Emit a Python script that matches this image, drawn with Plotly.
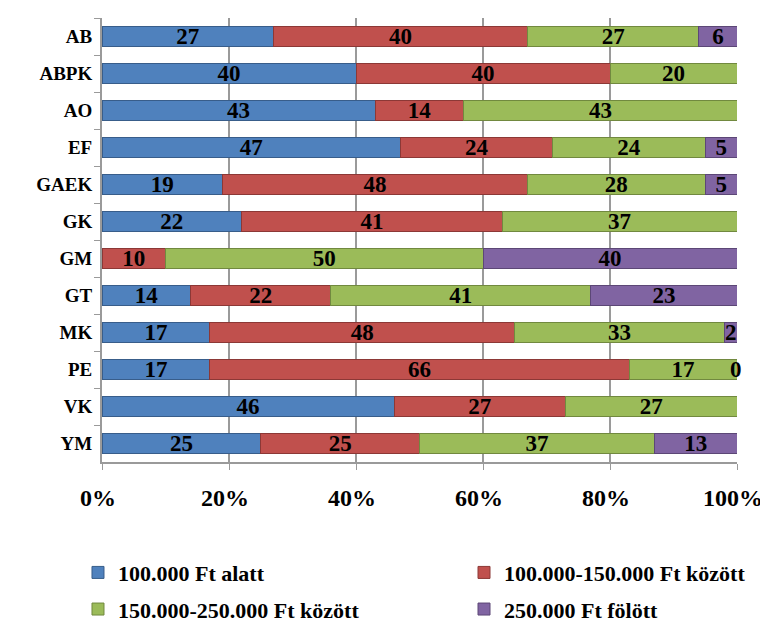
import plotly.graph_objects as go

categories = ["AB", "ABPK", "AO", "EF", "GAEK", "GK", "GM", "GT", "MK", "PE", "VK", "YM"]
series_names = ["100.000 Ft alatt", "100.000-150.000 Ft között",
                "150.000-250.000 Ft között", "250.000 Ft fölött"]
s_under100 = [27, 40, 43, 47, 19, 22, 0, 14, 17, 17, 46, 25]
s_100_150 = [40, 40, 14, 24, 48, 41, 10, 22, 48, 66, 27, 25]
s_150_250 = [27, 20, 43, 24, 28, 37, 50, 41, 33, 17, 27, 37]
s_over250 = [6, 0, 0, 5, 5, 0, 40, 23, 2, 0, 0, 13]
colors = ["#4F81BD", "#C0504D", "#9BBB59", "#8064A2"]
edge_colors = ["#385D8A", "#8C3836", "#71893F", "#5C4776"]
zero_label_rows = ["PE"]  # zero values that still carry a label in the original

FONT = "Liberation Serif"
fig = go.Figure()
all_series = [s_under100, s_100_150, s_150_250, s_over250]
legend_ids = ["legend", "legend2", "legend", "legend2"]
for k, (name, vals, col, ec) in enumerate(zip(series_names, all_series, colors, edge_colors)):
    fig.add_trace(go.Bar(
        y=categories, x=vals, name=name, orientation="h",
        marker=dict(color=col, line=dict(color=ec, width=1)),
        text=[str(v) if v > 0 else "" for v in vals],
        textposition="inside", insidetextanchor="middle", textangle=0,
        constraintext="none",
        textfont=dict(family=FONT, size=23, color="black", weight="bold"),
        width=0.55, legend=legend_ids[k], legendgroup=name,
    ))

# label "0" for the zero purple segment of PE
for cat in zero_label_rows:
    i = categories.index(cat)
    total = s_under100[i] + s_100_150[i] + s_150_250[i] + s_over250[i]
    fig.add_annotation(x=total, y=cat, text="<b>%d</b>" % s_over250[i], showarrow=False,
                       xanchor="center", xshift=-1,
                       font=dict(family=FONT, size=23, color="black"))

legend_style = dict(
    orientation="v", xref="container", yref="container",
    xanchor="left", yanchor="top", tracegroupgap=5,
    font=dict(family=FONT, size=22, color="black", weight="bold"),
    traceorder="grouped", itemclick=False, bgcolor="rgba(0,0,0,0)",
)
fig.update_layout(
    barmode="stack",
    width=760, height=614,
    margin=dict(l=94, r=31, t=10, b=160, autoexpand=False),
    paper_bgcolor="white", plot_bgcolor="white",
    font=dict(family=FONT, color="black"),
    uniformtext=dict(minsize=23, mode="show"),
    legend=dict(x=0.0921, y=0.1146, **legend_style),
    legend2=dict(x=0.6, y=0.1146, **legend_style),
    showlegend=True,
)
fig.update_xaxes(
    range=[0, 100], tickvals=[0, 20, 40, 60, 80, 100],
    ticktext=["0%", "20%", "40%", "60%", "80%", "100%"],
    showgrid=True, gridcolor="#9A9A9A", gridwidth=2,
    showline=True, linecolor="#9A9A9A", linewidth=2,
    ticks="outside", ticklen=6, tickcolor="#9A9A9A",
    tickfont=dict(family=FONT, size=24, color="black", weight="bold"),
    ticklabelstandoff=7, ticklabelshift=-4, zeroline=False, automargin=False,
)
fig.update_yaxes(
    autorange="reversed", showline=True, linecolor="#9A9A9A", linewidth=2,
    ticks="outside", tickson="boundaries", ticklen=6, tickcolor="#9A9A9A",
    tickfont=dict(family=FONT, size=19, color="black", weight="bold"),
    ticklabelstandoff=4, automargin=False,
)
fig.write_html("out.html")
